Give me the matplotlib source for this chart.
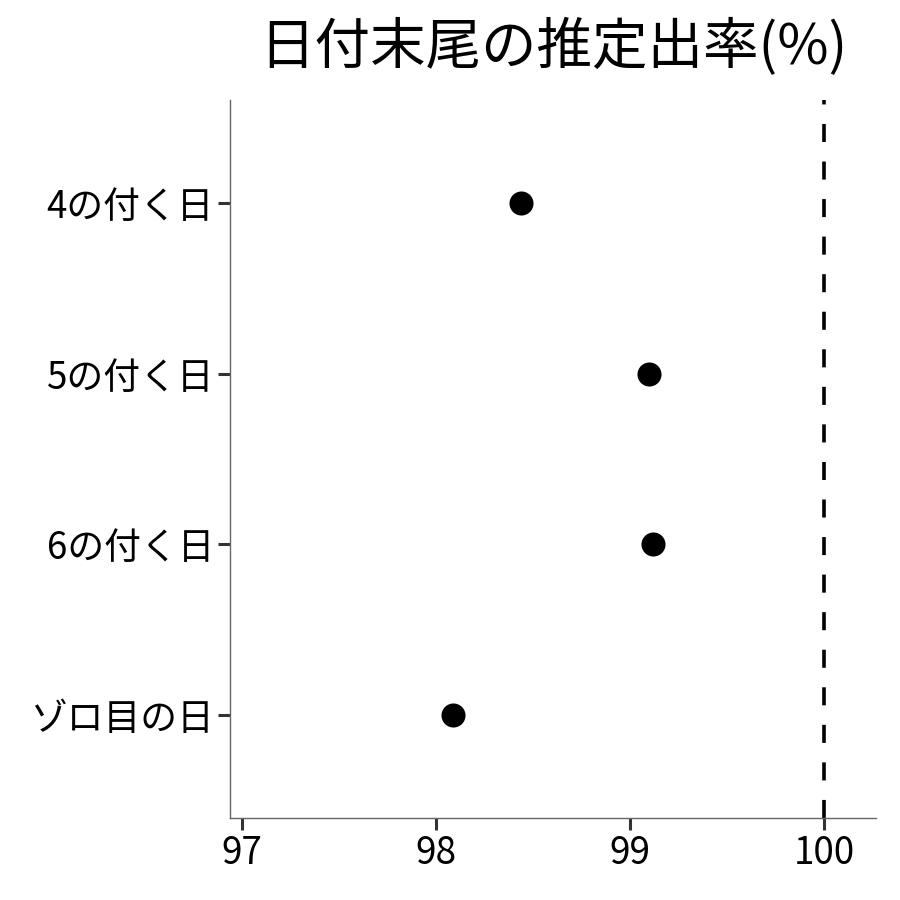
import numpy as np
import matplotlib
matplotlib.use("Agg")
import matplotlib.pyplot as plt

plt.rcParams['font.family'] = ['Noto Sans CJK JP', 'DejaVu Sans']

categories = ['ゾロ目の日', '6の付く日', '5の付く日', '4の付く日']
rates = [98.09, 99.12, 99.10, 98.44]
x_ticks = [97, 98, 99, 100]
ref_line = 100

fig = plt.figure(figsize=(9, 9), dpi=100)
ax = fig.add_axes([0.2556, 0.0911, 0.7177, 0.7978])

ypos = np.arange(1, len(categories) + 1)
ax.scatter(rates, ypos, s=300, color='black', zorder=3, linewidths=0)
ax.axvline(ref_line, color='black', linestyle=(0, (5.0, 5.4)), linewidth=2.6)

ax.set_xlim(96.938, 100.268)
ax.set_ylim(0.4, 4.6)
ax.set_xticks(x_ticks)
ax.set_xticklabels([str(t) for t in x_ticks])
ax.set_yticks(ypos)
ax.set_yticklabels(categories)

for s in ['top', 'right']:
    ax.spines[s].set_visible(False)
for s in ['left', 'bottom']:
    ax.spines[s].set_color('#666666')
    ax.spines[s].set_linewidth(1.0)

ax.tick_params(axis='both', length=8.5, width=2.2, color='#333333',
               labelsize=26.5, labelcolor='black', pad=3)

ax.set_title('日付末尾の推定出率(%)', fontsize=40, pad=26)

fig.savefig('out.png', dpi=100, facecolor='white')
